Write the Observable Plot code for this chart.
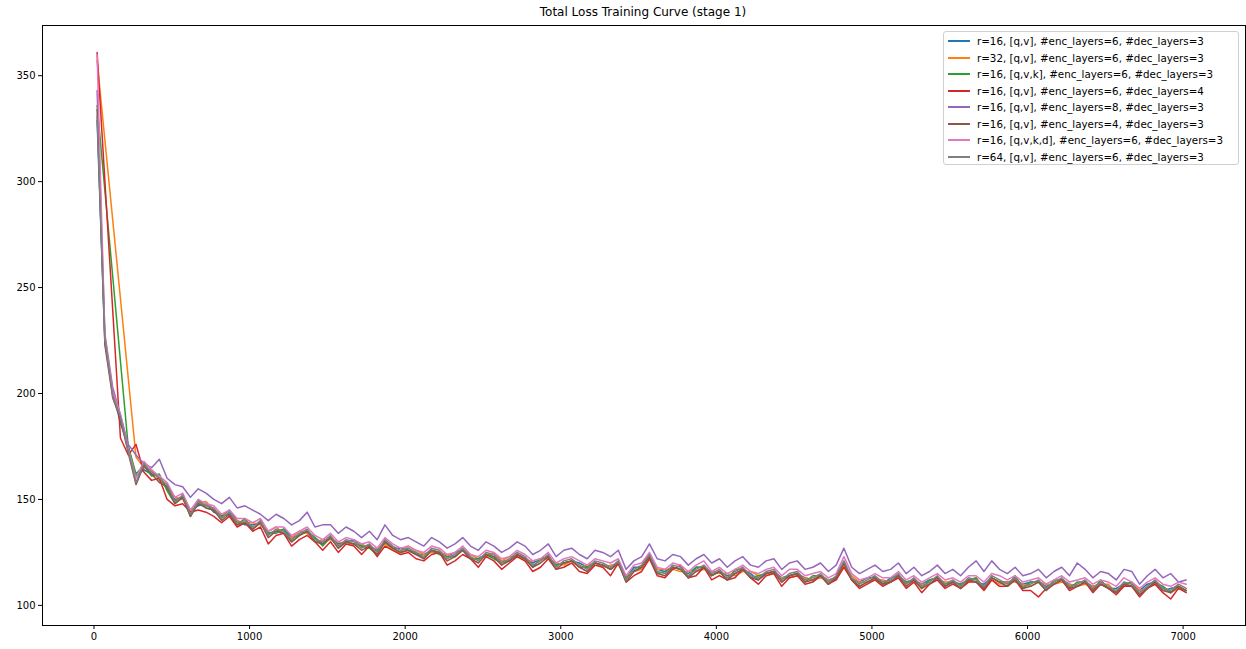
<!DOCTYPE html>
<html><head><meta charset="utf-8">
<script src="https://cdn.jsdelivr.net/npm/d3@7"></script>
<script src="https://cdn.jsdelivr.net/npm/@observablehq/plot@0.6"></script>
<style>
body{margin:0;background:#fff;font-family:"DejaVu Sans",sans-serif;}
#wrap{position:relative;width:1246px;height:649px;}
#title{position:absolute;left:0;top:5px;width:1286px;text-align:center;font-size:12px;color:#000;}
#chart{position:absolute;left:0;top:24px;}
#legend{position:absolute;left:943px;top:31px;width:294px;height:132px;border:1px solid #d0d0d0;border-radius:3px;background:rgba(255,255,255,0.8);font-size:10.3px;color:#000;}
.row{position:absolute;left:0;height:16px;line-height:16px;white-space:nowrap;}
.sw{position:absolute;left:4px;top:7px;width:22px;height:2px;}
.lb{position:absolute;left:33px;top:0;}
</style></head>
<body><div id="wrap"><div id="title"></div><div id="chart"></div><div id="legend"></div></div>
<script>
const titleText = "Total Loss Training Curve (stage 1)";
const steps = [20,70,120,170,220,270,320,370,420,470,
520,570,620,670,720,770,820,870,920,970,
1020,1070,1120,1170,1220,1270,1320,1370,1420,1470,
1520,1570,1620,1670,1720,1770,1820,1870,1920,1970,
2020,2070,2120,2170,2220,2270,2320,2370,2420,2470,
2520,2570,2620,2670,2720,2770,2820,2870,2920,2970,
3020,3070,3120,3170,3220,3270,3320,3370,3420,3470,
3520,3570,3620,3670,3720,3770,3820,3870,3920,3970,
4020,4070,4120,4170,4220,4270,4320,4370,4420,4470,
4520,4570,4620,4670,4720,4770,4820,4870,4920,4970,
5020,5070,5120,5170,5220,5270,5320,5370,5420,5470,
5520,5570,5620,5670,5720,5770,5820,5870,5920,5970,
6020,6070,6120,6170,6220,6270,6320,6370,6420,6470,
6520,6570,6620,6670,6720,6770,6820,6870,6920,6970,
7020];
const labels = [
"r=16, [q,v], #enc_layers=6, #dec_layers=3",
"r=32, [q,v], #enc_layers=6, #dec_layers=3",
"r=16, [q,v,k], #enc_layers=6, #dec_layers=3",
"r=16, [q,v], #enc_layers=6, #dec_layers=4",
"r=16, [q,v], #enc_layers=8, #dec_layers=3",
"r=16, [q,v], #enc_layers=4, #dec_layers=3",
"r=16, [q,v,k,d], #enc_layers=6, #dec_layers=3",
"r=64, [q,v], #enc_layers=6, #dec_layers=3"];
const colors = ["#1f77b4","#ff7f0e","#2ca02c","#d62728","#9467bd","#8c564b","#e377c2","#7f7f7f"];
const xTicks = [0,1000,2000,3000,4000,5000,6000,7000];
const yTicks = [100,150,200,250,300,350];

const lossR16qv = [329,224,201,186,175,161,164,162,161,155,
150,151,145,147,148,144,142,145,140,138,
138,139,134,135,136,132,133,135,132,129,
132,129,130,131,128,128,126,130,127,127,
126,124,124,126,125,123,125,126,122,122,
124,123,121,121,124,122,120,122,123,119,
120,121,120,118,120,119,117,120,113,118,
118,123,117,116,118,117,115,118,118,114,
116,114,115,117,115,112,115,116,113,114,
115,113,112,114,112,113,120,112,111,113,
113,110,113,114,111,112,110,112,113,109,
111,110,112,111,110,113,111,111,112,110,
111,111,109,110,112,110,109,111,109,110,
108,108,110,109,107,110,111,107,108,109,
107];
const lossR32qv = [357,null,null,null,null,170,165,164,159,156,
151,150,144,148,149,145,143,143,140,139,
139,138,135,137,134,132,135,134,130,131,
131,130,129,129,129,127,127,129,126,125,
128,126,124,125,125,124,123,126,124,122,
123,125,121,123,123,121,121,122,122,120,
119,121,118,119,120,118,119,119,114,116,
117,122,117,117,117,116,116,116,117,116,
115,115,114,116,116,114,115,115,113,113,
114,113,112,113,112,112,119,114,111,111,
112,112,111,113,111,111,110,110,112,111,
111,108,111,113,108,112,110,111,111,110,
109,111,110,110,111,110,109,110,109,110,
110,106,109,111,107,108,110,109,106,108,
107];
const lossR16qvk = [336,null,null,null,175,162,166,161,162,154,
148,151,142,150,146,145,142,143,138,141,
136,139,134,134,136,130,133,135,132,128,
132,127,130,129,128,127,124,130,127,125,
126,125,122,126,124,123,123,126,122,122,
124,122,120,121,124,122,118,122,123,119,
120,121,118,118,120,119,117,120,113,116,
118,123,115,116,118,117,113,118,118,114,
116,112,117,117,113,114,115,116,111,114,
115,111,114,114,110,113,120,112,109,111,
113,110,111,114,111,112,108,112,113,110,
111,110,112,113,108,113,111,109,114,108,
111,111,107,112,112,108,111,111,107,112,
108,106,110,111,105,108,111,109,106,109,
107];
const lossDec4 = [361,null,null,179,171,176,163,159,160,150,
147,148,144,145,144,142,139,142,137,139,
135,137,129,133,134,128,131,133,130,126,
130,125,129,128,124,128,123,128,126,124,
125,122,121,124,125,119,121,124,122,118,
123,121,117,120,123,121,116,118,122,117,
118,120,116,115,119,118,114,120,111,114,
116,122,114,113,117,119,113,114,118,112,
114,112,113,117,113,110,114,115,109,113,
114,110,111,114,110,112,118,112,108,110,
112,109,111,113,108,111,106,110,112,108,
110,108,111,111,107,112,109,109,112,107,
107,104,108,110,112,107,109,111,106,110,
108,105,109,109,104,108,110,106,103,108,
106];
const lossEnc8 = [343,228,203,190,176,171,167,165,169,160,
157,156,151,155,153,150,148,151,146,147,
145,143,140,143,141,138,140,144,137,138,
138,134,137,135,132,135,131,138,133,131,
132,130,128,132,130,127,129,132,128,126,
130,128,125,127,130,128,124,126,129,123,
126,127,124,122,126,125,123,126,117,121,
123,129,122,121,124,123,119,122,124,120,
122,118,121,123,119,118,121,122,117,120,
121,117,118,120,116,119,127,118,115,117,
119,116,117,120,115,118,114,116,119,115,
117,114,118,121,116,121,117,115,118,114,
115,117,113,116,118,114,120,117,113,116,
115,112,117,116,110,114,117,113,115,111,
112];
const lossEnc4 = [334,223,198,188,172,157,166,162,158,156,
148,151,142,148,146,145,140,143,138,139,
136,139,132,135,134,130,133,135,130,129,
132,127,130,129,126,128,124,130,127,125,
126,124,122,126,125,121,123,126,122,120,
124,123,119,121,124,122,118,120,123,117,
120,121,118,116,120,119,117,120,111,116,
118,123,115,114,118,117,113,116,118,114,
116,112,115,117,113,112,115,116,111,114,
115,111,112,114,110,113,120,112,109,111,
113,110,111,114,109,112,108,110,113,109,
111,108,112,111,108,113,111,109,112,108,
109,111,107,110,112,108,109,111,107,110,
108,106,110,109,105,108,111,107,106,109,
107];
const lossQvkd = [360,227,201,190,174,160,168,164,161,158,
151,153,145,150,148,147,143,145,141,141,
139,141,135,137,137,133,135,137,133,131,
134,130,132,131,129,130,127,132,129,127,
128,126,125,128,127,124,125,128,124,123,
126,125,122,123,126,124,121,122,125,120,
122,123,121,119,122,121,120,122,114,119,
120,125,118,117,120,119,116,119,121,116,
118,115,117,119,116,115,117,118,114,117,
117,114,115,116,113,115,123,115,112,113,
115,113,113,116,112,114,111,113,115,112,
113,111,114,114,111,115,114,112,114,111,
112,113,110,112,114,111,112,113,110,112,
111,109,113,111,108,111,113,110,109,111,
110];
const lossR64qv = [331,226,199,189,173,158,167,163,160,157,
149,152,143,149,147,146,141,144,139,140,
137,140,133,136,135,131,134,136,131,130,
133,128,131,130,127,129,125,131,128,126,
127,125,123,127,126,122,124,127,123,121,
125,124,120,122,125,123,119,121,124,118,
121,122,119,117,121,120,118,121,112,117,
119,124,116,115,119,118,114,117,119,115,
117,113,116,118,114,113,116,117,112,115,
116,112,113,115,111,114,121,113,110,112,
114,111,112,115,110,113,109,111,114,110,
112,109,113,112,109,114,112,110,113,109,
110,112,108,111,113,109,110,112,108,111,
109,107,111,110,106,109,112,108,107,110,
108];
const seriesValues = [lossR16qv,lossR32qv,lossR16qvk,lossDec4,lossEnc8,lossEnc4,lossQvkd,lossR64qv];

document.getElementById("title").textContent = titleText;

const marks = [];
seriesValues.forEach((vals, s) => {
  const rows = [];
  vals.forEach((v, i) => { if (v != null) rows.push({step: steps[i], loss: v}); });
  marks.push(Plot.line(rows, {x: "step", y: "loss", stroke: colors[s], strokeWidth: 1.5}));
});
marks.push(Plot.frame({stroke: "#000", strokeWidth: 1}));
marks.push(Plot.axisX({ticks: xTicks, tickSize: 4, tickPadding: 3, tickFormat: d => String(d), label: null}));
marks.push(Plot.axisY({ticks: yTicks, tickSize: 4, tickPadding: 3, tickFormat: d => String(d), label: null}));

const chart = Plot.plot({
  width: 1246, height: 625,
  marginTop: 1, marginBottom: 24, marginLeft: 42, marginRight: 1,
  style: {fontFamily: "DejaVu Sans", fontSize: "10px", color: "#000", background: "#fff"},
  x: {domain: [-331, 7401]},
  y: {domain: [90.5, 373.7]},
  marks
});
document.getElementById("chart").appendChild(chart);

const lg = document.getElementById("legend");
labels.forEach((t, i) => {
  const r = document.createElement("div");
  r.className = "row";
  r.style.top = (1 + i * 16.5) + "px";
  r.style.width = "290px";
  const sw = document.createElement("div"); sw.className = "sw"; sw.style.background = colors[i];
  const lb = document.createElement("div"); lb.className = "lb"; lb.textContent = t;
  r.appendChild(sw); r.appendChild(lb); lg.appendChild(r);
});
</script></body></html>
